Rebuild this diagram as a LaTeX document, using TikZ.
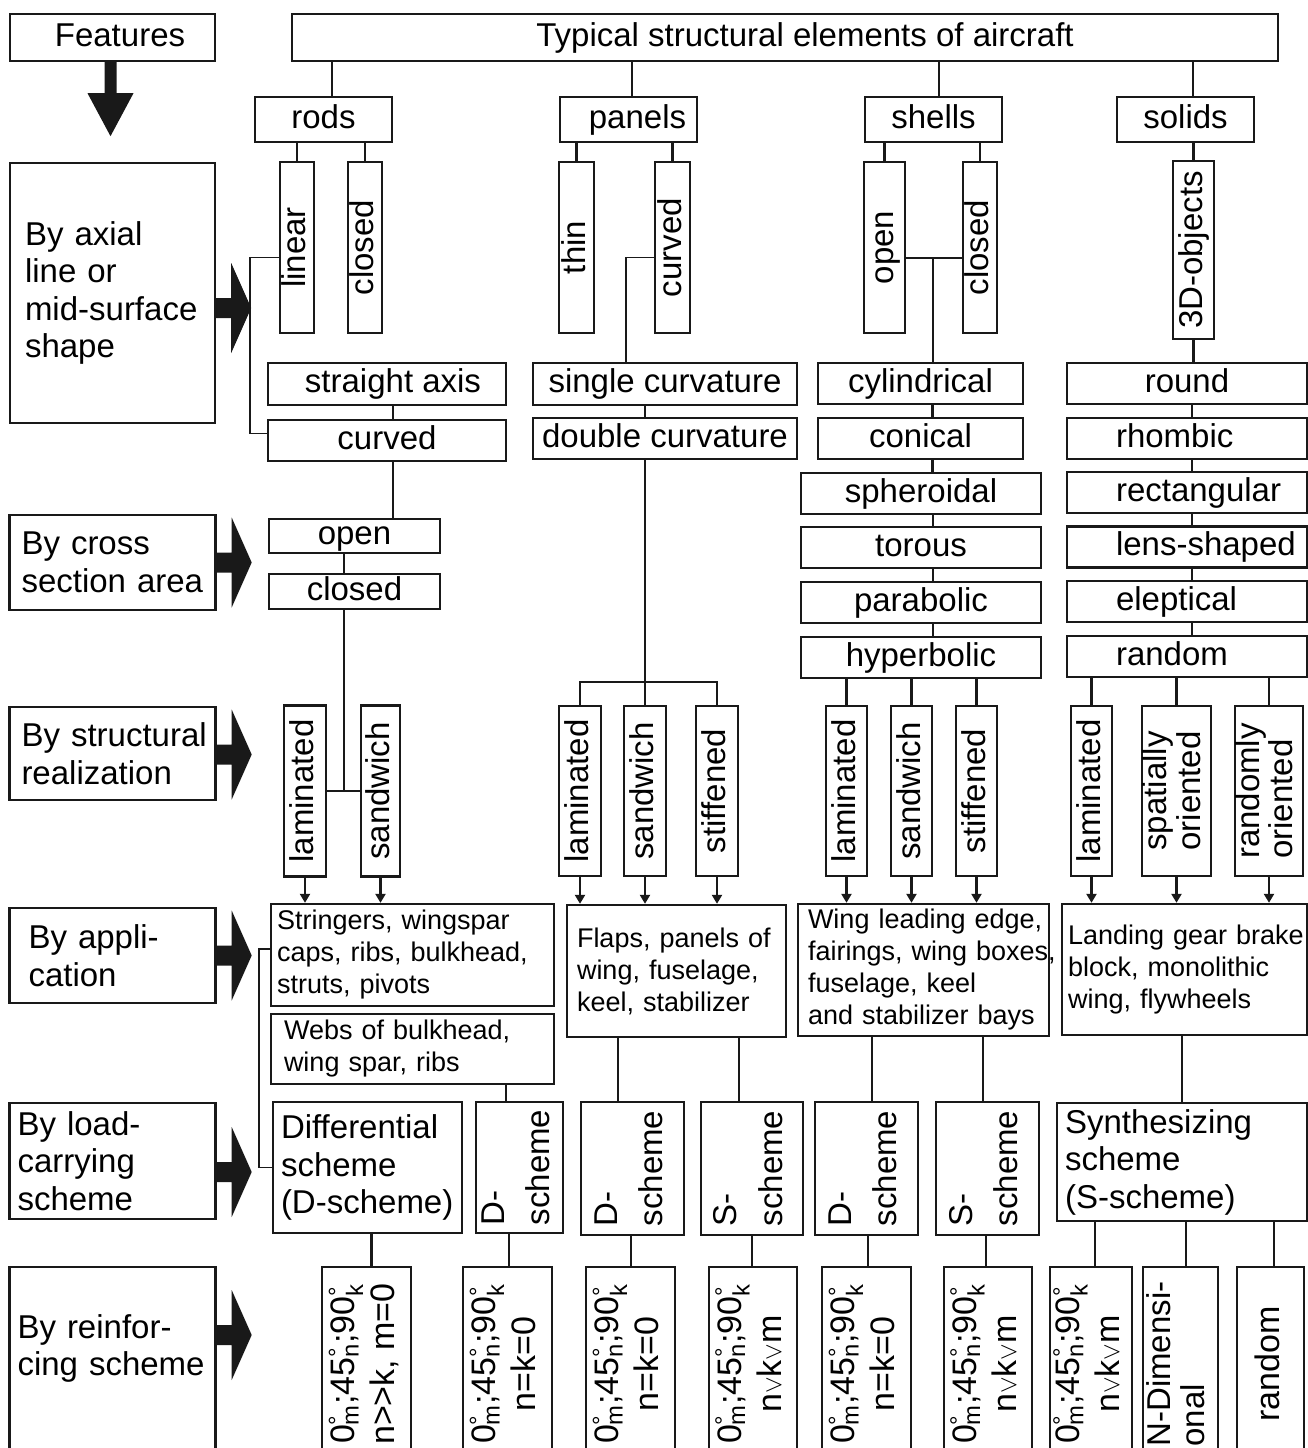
\documentclass[tikz,border=0pt]{standalone}
\usepackage{fontspec}
\setmainfont{Liberation Sans}
\usetikzlibrary{arrows.meta}

\definecolor{ink}{gray}{0.1}
\newcommand\fbig{\fontsize{33}{37.5}\selectfont}
\newcommand\fsmall{\fontsize{27}{32}\selectfont}
\newcommand\vtext[1]{\rotatebox{90}{#1\vphantom{lp}}}
\newcommand\vtwo[2]{\rotatebox{90}{\begin{tabular}{@{}#1@{}}#2\end{tabular}}}
\newcommand\dg[2]{#1\rlap{\textsuperscript{°}}\textsubscript{#2}}
\newcommand\plies{\dg{0}{m};\dg{45}{n};\dg{90}{k}}

\begin{document}
\begin{tikzpicture}[x=1pt, y=-1pt,
    box/.style={draw=ink, line width=2.4pt, inner sep=0pt, font=\fbig},
    lab/.style={box, text height=24pt, text depth=7pt},
    sbox/.style={box, font=\fsmall},
    rbox/.style={box, font=\fontsize{34}{40}\selectfont},
    tight/.style={font=\fontsize{33}{33}\selectfont},
    sz/.style 2 args={minimum width=#1pt, minimum height=#2pt},
    txt/.style={align=left, text width=#1pt},
    link/.style={draw=ink, line width=2.6pt},
    thinlink/.style={draw=ink, line width=1.4pt},
    feed/.style={link, -{Triangle[width=10pt,length=9pt]}},
]
\useasboundingbox (0,0) rectangle (1308,1448);
\clip (0,0) rectangle (1308,1448);

% Features
\node[lab, sz={205}{47}] (features) at (112.5,37.5) {\hspace*{15pt}Features};
\node[box, sz={205}{260}, txt=175] (axial) at (112.5,293) {By axial\\line or\\mid-surface\\shape};
\node[box, sz={206}{95}, txt=182] (cross) at (112.5,562.5) {By cross\\\mbox{section area}};
\node[box, sz={206}{93}, txt=182] (realiz) at (112.5,753.5) {\mbox{By structural}\\realization};
\node[box, sz={206}{95}, txt=168] (appl) at (112.5,955.5) {By appli-\\cation};
\node[box, sz={206}{116}, txt=190] (load) at (112.5,1161) {By load-\\carrying\\scheme};
\node[box, sz={206}{194}, txt=190] (reinf) at (112.5,1364) {By reinfor-\\\mbox{cing scheme}\\\mbox{}};

% Elements
\node[lab, sz={986}{47}] (title) at (785,37.5) {\hspace*{40pt}Typical structural elements of aircraft};
\node[lab, sz={137}{45}] (rods) at (323.5,119.5) {rods};
\node[lab, sz={137}{45}] (panels) at (628.5,119.5) {\hspace*{18pt}panels};
\node[lab, sz={137}{45}] (shells) at (933.5,119.5) {shells};
\node[lab, sz={137}{45}] (solids) at (1185.5,119.5) {solids};

% Rods
\node[box, sz={34}{171}] (linear) at (297,247.5) {\vtext{linear}};
\node[box, sz={34}{171}] (closedR) at (365,247.5) {\vtext{closed}};
\node[lab, sz={238}{42}] (straight) at (387,384) {\hspace*{12pt}straight axis};
\node[lab, sz={238}{41}] (curved) at (387,440.5) {curved};
\node[lab, sz={171}{34}] (openX) at (354.5,536) {open};
\node[lab, sz={171}{35}] (closedX) at (354.5,591.5) {closed};
\node[box, sz={42}{171}] (lamR) at (305,791) {\vtext{laminated}};
\node[box, sz={39}{171}] (sandR) at (380.5,791) {\vtext{sandwich}};
\node[sbox, sz={283}{102}, txt=271] (string) at (412.5,955) {Stringers, wingspar\\caps, ribs, bulkhead,\\struts, pivots};
\node[sbox, sz={283}{70}, txt=257] (webs) at (412.5,1049) {Webs of bulkhead,\\wing spar, ribs};
\node[box, sz={189}{131}, txt=173] (diff) at (367.5,1167.5) {Differential\\scheme\\\mbox{(D-scheme)}};
\node[box, sz={87}{131}] (DsR) at (519.5,1167.5) {\vtwo{l}{D-\\[8pt]scheme}};

% Panels
\node[box, sz={35}{171}] (thin) at (576.5,247.5) {\vtext{thin}};
\node[box, sz={35}{171}] (curvedP) at (672.5,247.5) {\vtext{curved}};
\node[lab, sz={264}{42}] (single) at (665,384) {single curvature};
\node[lab, sz={264}{41}] (double) at (665,438.5) {double curvature};
\node[box, sz={42}{170}] (lamP) at (580,791) {\vtext{laminated}};
\node[box, sz={42}{170}] (sandP) at (645,791) {\vtext{sandwich}};
\node[box, sz={42}{170}] (stiffP) at (717,791) {\vtext{stiffened}};
\node[sbox, sz={219}{132}, txt=199] (flaps) at (676.5,971) {\mbox{Flaps, panels of}\\wing, fuselage,\\keel, stabilizer};
\node[box, sz={103}{133}] (DsP) at (632.5,1168.5) {\vtwo{l}{D-\\[8pt]scheme}};
\node[box, sz={102}{133}] (SsP) at (752,1168.5) {\vtwo{l}{S-\\[8pt]scheme}};

% Shells
\node[box, sz={41}{171}] (openS) at (884.5,247.5) {\vtext{open}};
\node[box, sz={34}{171}] (closedS) at (980,247.5) {\vtext{closed}};
\node[lab, sz={205}{41}] (cyl) at (920.5,383.5) {cylindrical};
\node[lab, sz={205}{41}] (conical) at (920.5,438.5) {conical};
\node[lab, sz={240}{41}] (spher) at (921,493.5) {spheroidal};
\node[lab, sz={240}{41}] (torous) at (921,547.5) {torous};
\node[lab, sz={240}{41}] (parab) at (921,602.5) {parabolic};
\node[lab, sz={240}{41}] (hyper) at (921,657.5) {hyperbolic};
\node[box, sz={41}{170}] (lamS) at (846.5,791) {\vtext{laminated}};
\node[box, sz={41}{170}] (sandS) at (911.5,791) {\vtext{sandwich}};
\node[box, sz={41}{170}] (stiffS) at (976.5,791) {\vtext{stiffened}};
\node[sbox, sz={251}{132}, txt=231] (wing) at (923.5,970) {\mbox{Wing leading edge,}\\\mbox{fairings, wing boxes,}\\fuselage, keel\\\mbox{and stabilizer bays}};
\node[box, sz={103}{133}] (DsS) at (866.5,1168.5) {\vtwo{l}{D-\\[8pt]scheme}};
\node[box, sz={103}{133}] (SsS) at (987.5,1168.5) {\vtwo{l}{S-\\[8pt]scheme}};

% Solids
\node[box, sz={41}{178}] (objD) at (1193.5,250) {\vtext{3D-objects}};
\node[lab, sz={240}{41}] (round) at (1187,383.5) {round};
\node[lab, sz={240}{41}, txt=142] (rhombic) at (1187,438.5) {rhombic};
\node[lab, sz={240}{41}, txt=142] (rect) at (1187,492.5) {\mbox{rectangular}};
\node[lab, sz={240}{41}, txt=142] (lens) at (1187,547) {\mbox{lens-shaped}};
\node[lab, sz={240}{41}, txt=142] (elept) at (1187,601.5) {eleptical};
\node[lab, sz={240}{41}, txt=142] (randS) at (1187,656.5) {random};
\node[box, sz={41}{170}] (lamSo) at (1091.5,791) {\vtext{laminated}};
\node[box, tight, sz={69}{170}] (spat) at (1176.5,791) {\vtwo{l}{spatially\\oriented}};
\node[box, tight, sz={68}{170}] (randO) at (1269,791) {\vtwo{l}{randomly\\oriented}};
\node[sbox, sz={245}{131}, txt=233] (landing) at (1184.5,969.5) {\mbox{Landing gear brake}\\block, monolithic\\wing, flywheels};
\node[box, sz={250}{118}, txt=234] (synth) at (1182,1162) {Synthesizing\\scheme\\(S-scheme)};

% Reinforcing schemes
\node[rbox, sz={89}{194}] (b1) at (366.5,1364) {\vtwo{c}{\plies\\n>\kern0pt>k, m=0}};
\node[rbox, sz={89}{194}] (b2) at (507.5,1364) {\vtwo{c}{\plies\\n=k=0}};
\node[rbox, sz={89}{194}] (b3) at (630.5,1364) {\vtwo{c}{\plies\\n=k=0}};
\node[rbox, sz={88}{194}] (b4) at (753,1364) {\vtwo{c}{\plies\\n$\vee$k$\vee$m}};
\node[rbox, sz={89}{194}] (b5) at (866.5,1364) {\vtwo{c}{\plies\\n=k=0}};
\node[rbox, sz={88}{194}] (b6) at (988,1364) {\vtwo{c}{\plies\\n$\vee$k$\vee$m}};
\node[rbox, sz={82}{194}] (b7) at (1091,1364) {\vtwo{c}{\plies\\n$\vee$k$\vee$m}};
\node[rbox, tight, sz={75}{194}] (b8) at (1180.5,1364) {\vtwo{l}{N-Dimensi-\\onal}};
\node[rbox, sz={67}{194}] (b9) at (1270.5,1364) {\vtext{random}};

% Lines
\foreach \n/\dx in {rods/8.5, panels/3.5, shells/5.5, solids/7.5}
    \draw[link] ([xshift=\dx pt]\n.north) -- ([xshift=\dx pt]\n.north |- title.south);
\foreach \a/\b in {linear/rods, closedR/rods, thin/panels, curvedP/panels, openS/shells, closedS/shells, objD/solids}
    \draw[link] (\a.north) -- (\a.north |- \b.south);
\draw[link] (objD.south) -- (objD.south |- round.north);
\draw[link] ([xshift=6pt]straight.south) -- ([xshift=6pt]curved.north);
\draw[link] ([xshift=-20pt]single.south) -- ([xshift=-20pt]double.north);
\foreach \a/\b in {cyl/conical, conical/spher, spher/torous, torous/parab, parab/hyper}
    \draw[link] ([xshift=12pt]\a.south) -- ([xshift=12pt]\a.south |- \b.north);
\foreach \a/\b in {round/rhombic, rhombic/rect, rect/lens, lens/elept, elept/randS}
    \draw[link] ([xshift=5pt]\a.south) -- ([xshift=5pt]\a.south |- \b.north);

\draw[thinlink] ([yshift=-10pt]linear.west) -- ++(-29,0) |- ([yshift=7pt]curved.west);
\draw[thinlink] ([yshift=-10pt]curvedP.west) -| ([xshift=-39pt]single.north);
\draw[thinlink] ([yshift=-10.5pt]openS.east) -- ([yshift=-10.5pt]closedS.west);
\draw[thinlink] ([xshift=12.5pt]cyl.north) -- ++(0,-105);

\draw[link] ([xshift=6pt]curved.south) -- ([xshift=6pt]curved.south |- openX.north);
\draw[link] ([xshift=-10.5pt]openX.south) -- ([xshift=-10.5pt]closedX.north);
\draw[link] ([xshift=-10.5pt]closedX.south) -- ([xshift=-10.5pt]closedX.south |- lamR.east);
\draw[link] (lamR.east) -- (sandR.west);
\draw[link] (lamP.north) -- ++(0,-23) -| (stiffP.north);
\draw[link] (sandP.north) -- (sandP.north |- double.south);
\foreach \a in {lamS, sandS, stiffS}
    \draw[link] (\a.north) -- (\a.north |- hyper.south);
\foreach \a in {lamSo, spat, randO}
    \draw[link] (\a.north) -- (\a.north |- randS.south);

\foreach \a in {lamR, sandR}
    \draw[feed] (\a.south) -- (\a.south |- string.north);
\foreach \a in {lamP, sandP, stiffP}
    \draw[feed] (\a.south) -- (\a.south |- flaps.north);
\foreach \a in {lamS, sandS, stiffS}
    \draw[feed] (\a.south) -- (\a.south |- wing.north);
\foreach \a in {lamSo, spat, randO}
    \draw[feed] (\a.south) -- (\a.south |- landing.north);

\draw[thinlink] ([yshift=6pt]string.west) -- ++(-11,0) |- (diff.west);
\draw[link] ([xshift=-13.5pt]DsR.north) -- ([xshift=-13.5pt]DsR.north |- webs.south);
\draw[link] ([xshift=-14.5pt]DsP.north) -- ([xshift=-14.5pt]DsP.north |- flaps.south);
\draw[link] ([xshift=-13pt]SsP.north) -- ([xshift=-13pt]SsP.north |- flaps.south);
\draw[link] ([xshift=5.5pt]DsS.north) -- ([xshift=5.5pt]DsS.north |- wing.south);
\draw[link] ([xshift=-4.5pt]SsS.north) -- ([xshift=-4.5pt]SsS.north |- wing.south);
\draw[link] (synth.north) -- (synth.north |- landing.south);
\foreach \a/\b/\dx in {diff/b1/5, DsR/b2/1.5, DsP/b3/0.5, SsP/b4/-1, DsS/b5/1.5, SsS/b6/-2, synth/b7/4, synth/b8/5.5, synth/b9/3.5}
    \draw[link] ([xshift=\dx pt]\b.north) -- ([xshift=\dx pt]\b.north |- \a.south);

% Arrows
\fill[ink] ([xshift=-8pt]features.south) -- ++(0,31) -- ++(-17,0) -- ++(23,43) -- ++(23,-43) -- ++(-17,0) -- ++(0,-31) -- cycle;
\foreach \n/\s in {axial/-15, cross/0, realiz/-1, appl/0, load/-11, reinf/29}
    \fill[ink] ([yshift=\s pt]\n.east) ++(0,-10) -- ++(15,0) -- ++(0,-35) -- ++(20,45) -- ++(-20,45) -- ++(0,-35) -- ++(-15,0) -- cycle;

\end{tikzpicture}
\end{document}
